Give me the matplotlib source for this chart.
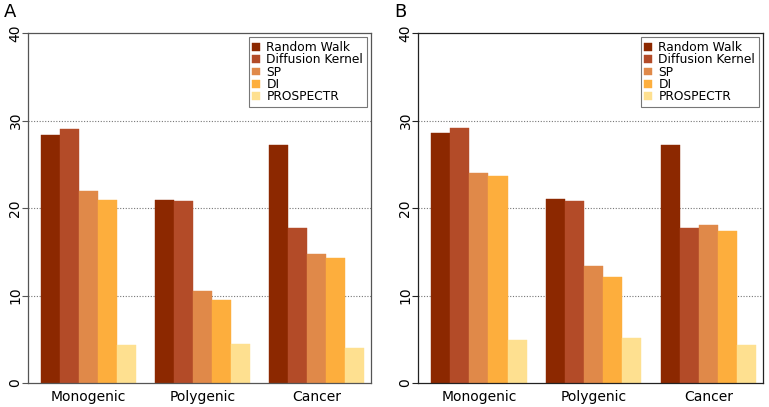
import matplotlib
matplotlib.use("Agg")
import matplotlib.pyplot as plt
import numpy as np

# Data
groups = ["Monogenic", "Polygenic", "Cancer"]
methods = ["Random Walk", "Diffusion Kernel", "SP", "DI", "PROSPECTR"]
colors = ["#8c2800", "#b34b28", "#e08949", "#fdae3d", "#fee090"]

# rows = methods, cols = groups
vals_a = [
    [28.4, 20.9, 27.2],
    [29.0, 20.8, 17.7],
    [21.9, 10.5, 14.7],
    [20.9, 9.5, 14.3],
    [4.3, 4.5, 4.0],
]
vals_b = [
    [28.6, 21.0, 27.2],
    [29.1, 20.8, 17.7],
    [24.0, 13.4, 18.1],
    [23.7, 12.1, 17.4],
    [4.9, 5.2, 4.4],
]

fig = plt.figure(figsize=(7.69, 4.07), dpi=100)
ax_a = fig.add_axes([28 / 769, 24 / 407, 343 / 769, 350 / 407])
ax_b = fig.add_axes([418 / 769, 24 / 407, 345 / 769, 350 / 407])


def draw_panel(ax, vals, letter, frame_color):
    for i, (name, col) in enumerate(zip(methods, colors)):
        x = np.arange(len(groups)) * 6 + i
        ax.bar(x, vals[i], width=1.0, align="edge", color=col,
               edgecolor=col, linewidth=0.3, label=name, zorder=2)
    ax.set_xlim(-0.68, 17.35)
    ax.set_ylim(0, 40)
    for y in [10, 20, 30]:
        ax.axhline(y, color="#777777", linestyle=(0, (1, 1.5)),
                   linewidth=0.8, zorder=1)
    ax.set_yticks([0, 10, 20, 30, 40])
    ax.set_yticklabels(["0", "10", "20", "30", "40"], rotation=90,
                       va="center", fontsize=10)
    ax.set_xticks(np.arange(len(groups)) * 6 + 2.5)
    ax.set_xticklabels(groups, fontsize=10)
    ax.tick_params(axis="x", length=0, pad=5)
    ax.tick_params(axis="y", length=4, width=0.8, color=frame_color, pad=0)
    for sp in ax.spines.values():
        sp.set_color(frame_color)
        sp.set_linewidth(0.9)
    leg = ax.legend(loc="upper right", fontsize=8.8, frameon=True,
                    fancybox=False, labelspacing=-0.05, handlelength=0.6,
                    handleheight=0.6, handletextpad=0.55, borderpad=0.3,
                    borderaxespad=0.35)
    leg.get_frame().set_edgecolor("#555555")
    leg.get_frame().set_linewidth(0.8)
    # panel letter placed in figure pixels left/above the axes
    pos = ax.get_position()
    fig.text(pos.x0 - 24 / 769, 1 - 12 / 407, letter, fontsize=13,
             ha="left", va="center")


draw_panel(ax_a, vals_a, "A", "#555555")
draw_panel(ax_b, vals_b, "B", "#222222")

fig.savefig("out.png", dpi=100)
